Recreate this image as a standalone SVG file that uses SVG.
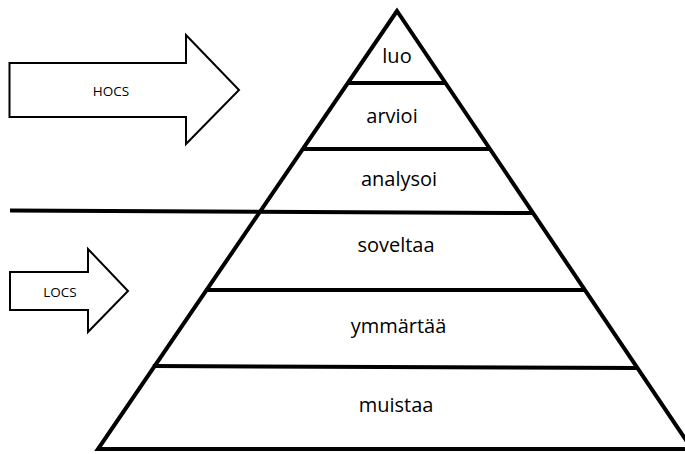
<svg xmlns="http://www.w3.org/2000/svg" width="685" height="454" viewBox="0 0 685 454">
<style>
.arrow{fill:#ffffff;stroke:#000;stroke-width:2;stroke-linejoin:miter}
.line{stroke:#000;stroke-width:4;fill:none;stroke-linecap:butt}
.lbl{font-family:"Open Sans","Liberation Sans",sans-serif;font-size:20px;fill:#000;text-anchor:middle}
.small{font-family:"Open Sans","Liberation Sans",sans-serif;font-size:13.5px;fill:#000;text-anchor:middle}
</style>
<rect width="685" height="454" fill="#ffffff"/>
<g id="hocs">
<polygon class="arrow" points="9.5,63 186,63 186,35 239,90 186,144 186,117 9.5,117"/>
<text class="small" x="111" y="96">HOCS</text>
</g>
<g id="locs">
<polygon class="arrow" points="10,272 88,272 88,249 128,291 88,332 88,310 10,310"/>
<text class="small" x="60" y="297">LOCS</text>
</g>
<g id="pyramid">
<polygon class="line" points="397,11 98,449 692,449" stroke-linejoin="miter"/>
</g>
<g id="connectors">
<line class="line" x1="347.6" y1="83" x2="445.7" y2="83"/>
<line class="line" x1="302.3" y1="149" x2="490.3" y2="149"/>
<line class="line" x1="10" y1="210.5" x2="533" y2="213"/>
<line class="line" x1="205.6" y1="290" x2="585.6" y2="290"/>
<line class="line" x1="152.8" y1="366" x2="637.7" y2="368"/>
</g>
<g id="luo"><text class="lbl" x="397" y="63">luo</text></g>
<g id="arvioi"><text class="lbl" x="392" y="123">arvioi</text></g>
<g id="analysoi"><text class="lbl" x="399" y="186">analysoi</text></g>
<g id="soveltaa"><text class="lbl" x="396" y="252">soveltaa</text></g>
<g id="ymmartaa"><text class="lbl" x="398.5" y="333">ymmärtää</text></g>
<g id="muistaa"><text class="lbl" x="396" y="412">muistaa</text></g>
</svg>
